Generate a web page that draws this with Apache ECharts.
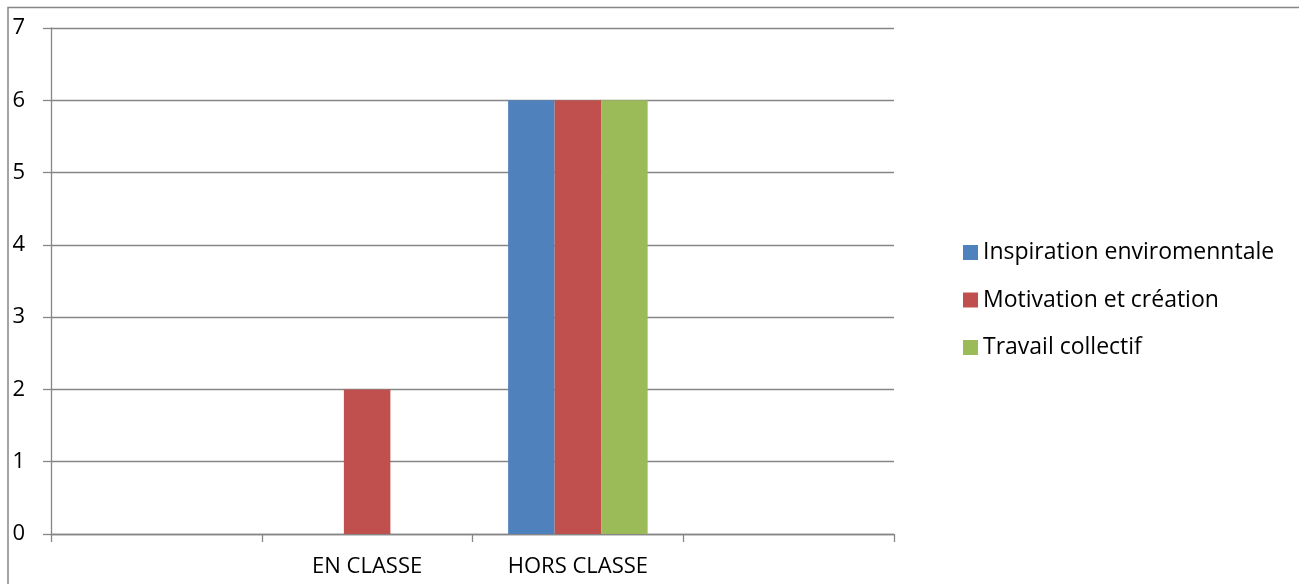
<!DOCTYPE html>
<html>
<head>
<meta charset="utf-8">
<script src="https://cdn.jsdelivr.net/npm/echarts@6/dist/echarts.min.js"></script>
<style>html,body{margin:0;padding:0;background:#fff}#c{width:1299px;height:584px}</style>
</head>
<body>
<div id="c"></div>
<script>
const categories = ['', 'EN CLASSE', 'HORS CLASSE', ''];
const seriesNames = ['Inspiration enviromenntale', 'Motivation et création', 'Travail collectif'];
const inspiration = ['-', 0, 6, '-'];
const motivation = ['-', 2, 6, '-'];
const travail = ['-', 0, 6, '-'];
const yTicks = [0, 1, 2, 3, 4, 5, 6, 7];
const colors = ['#4F81BD', '#C0504D', '#9BBB59'];
const FONT = 'Open Sans';
const GRAY = '#868686';

const chart = echarts.init(document.getElementById('c'));
const values = [inspiration, motivation, travail];
chart.setOption({
  animation: false,
  textStyle: { fontFamily: FONT },
  graphic: [{
    type: 'rect', shape: { x: 8, y: 7.5, width: 1400, height: 700 },
    style: { fill: 'none', stroke: GRAY, lineWidth: 1.5 }, z: -1
  }],
  grid: { left: 51, right: 405, top: 28, bottom: 50 },
  legend: {
    orient: 'vertical', left: 958, top: 236,
    itemWidth: 15, itemHeight: 15, itemGap: 24.5,
    icon: 'rect',
    textStyle: { fontFamily: FONT, fontSize: 23, color: '#000', padding: [0, 0, 0, 0] },
    data: seriesNames
  },
  xAxis: {
    type: 'category', data: categories,
    axisLine: { lineStyle: { color: GRAY, width: 1.3 } },
    axisTick: { show: true, length: 8, lineStyle: { color: GRAY, width: 1.3 } },
    axisLabel: { color: '#000', fontSize: 22, fontFamily: FONT, margin: 22 },
    splitLine: { show: false }
  },
  yAxis: {
    type: 'value', min: yTicks[0], max: yTicks[yTicks.length - 1], interval: 1,
    axisLine: { show: true, lineStyle: { color: GRAY, width: 1.3 } },
    axisTick: { show: true, length: 8, lineStyle: { color: GRAY, width: 1.3 } },
    axisLabel: { color: '#000', fontSize: 22, fontFamily: FONT, margin: 26 },
    splitLine: { show: true, lineStyle: { color: GRAY, width: 1.3 } }
  },
  series: seriesNames.map((n, i) => ({
    name: n, type: 'bar', data: values[i],
    barWidth: 46.5, barGap: '0%',
    itemStyle: { color: colors[i] }
  }))
});
</script>
</body>
</html>
